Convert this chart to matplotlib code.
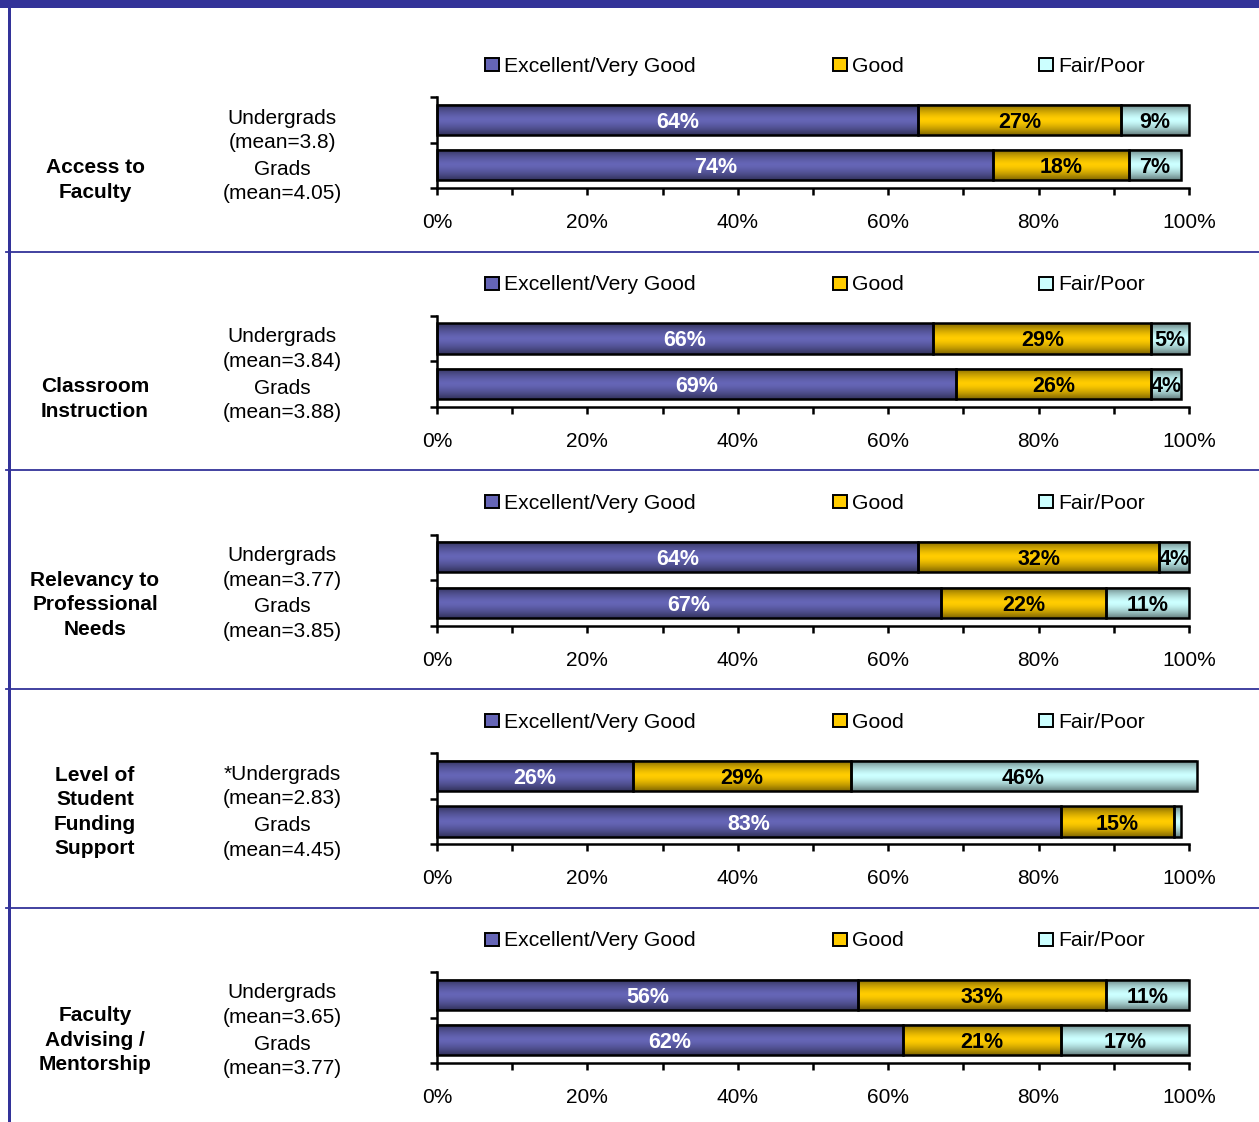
import numpy as np
import matplotlib
matplotlib.use("Agg")
import matplotlib.pyplot as plt
from matplotlib.patches import Rectangle
from matplotlib.lines import Line2D
from matplotlib.colors import LinearSegmentedColormap

plt.rcParams['font.family'] = ['Liberation Sans', 'DejaVu Sans']

# ---------------- data ----------------
topics = [["Access to", "Faculty"],
          ["Classroom", "Instruction"],
          ["Relevancy to", "Professional", "Needs"],
          ["Level of", "Student", "Funding", "Support"],
          ["Faculty", "Advising /", "Mentorship"]]
ug_names = ["Undergrads", "Undergrads", "Undergrads", "*Undergrads", "Undergrads"]
gr_names = ["Grads", "Grads", "Grads", "Grads", "Grads"]
ug_means = ["3.8", "3.84", "3.77", "2.83", "3.65"]
gr_means = ["4.05", "3.88", "3.85", "4.45", "3.77"]
categories = ["Excellent/Very Good", "Good", "Fair/Poor"]
ug_excellent = [64, 66, 64, 26, 56]
ug_good = [27, 29, 32, 29, 33]
ug_fair = [9, 5, 4, 46, 11]
gr_excellent = [74, 69, 67, 83, 62]
gr_good = [18, 26, 22, 15, 21]
gr_fair = [7, 4, 11, 1, 17]
x_ticks = [0, 20, 40, 60, 80, 100]
x_tick_labels = ["0%", "20%", "40%", "60%", "80%", "100%"]

# ---------------- style ----------------
W, H = 1259, 1122
colors = ["#6565B6", "#FFCC00", "#CCFFFF"]
label_colors = ["white", "black", "black"]
border = "#333399"

fig = plt.figure(figsize=(W / 100, H / 100), dpi=100)

def fx(px):
    return px / W

def fy(py):
    return 1 - py / H

shade = LinearSegmentedColormap.from_list("shade", [(0, 0, 0, 0), (0, 0, 0, 1)])
t = np.linspace(0, 1, 60)
grad = (0.5 * np.abs(2 * t - 1) ** 1.5).reshape(-1, 1)

panel_step = 218.75
topic_centers = [178, 397, 603, 810, 1038]
legend_marker_x = [485, 833, 1039]

for i in range(5):
    off = panel_step * i
    ax = fig.add_axes([fx(437), fy(188 + off), fx(1189) - fx(437), (188 - 97) / H])
    ax.set_xlim(0, 100)
    ax.set_ylim(-0.5, 1.5)
    series = [[ug_excellent[i], gr_excellent[i]],
              [ug_good[i], gr_good[i]],
              [ug_fair[i], gr_fair[i]]]
    ypos = [1, 0]
    left = np.zeros(2)
    for k, vals in enumerate(series):
        vals = np.array(vals, dtype=float)
        bars = ax.barh(ypos, vals, left=left, height=0.67, color=colors[k],
                       edgecolor="none", zorder=2, clip_on=False)
        for p in bars.patches:
            x0, y0, w, h = p.get_x(), p.get_y(), p.get_width(), p.get_height()
            ax.imshow(grad, extent=(x0, x0 + w, y0, y0 + h), aspect="auto",
                      cmap=shade, vmin=0, vmax=1, zorder=2.5,
                      interpolation="bilinear", clip_on=False)
        ax.barh(ypos, vals, left=left, height=0.67, fill=False,
                edgecolor="black", linewidth=1.8, zorder=3, clip_on=False)
        for y, v, l in zip(ypos, vals, left):
            if v > 1:
                ax.text(l + v / 2, y, f"{int(v)}%", ha="center", va="center_baseline",
                        fontsize=15.5, fontweight="bold", color=label_colors[k],
                        zorder=4)
        left = left + vals
    ax.set_xlim(0, 100)
    ax.set_ylim(-0.5, 1.5)
    ax.set_xticks(x_ticks)
    ax.set_xticklabels(x_tick_labels, fontsize=15)
    ax.set_xticks(np.arange(10, 100, 20), minor=True)
    ax.set_yticks([-0.5, 0.5, 1.5])
    ax.set_yticklabels([])
    ax.tick_params(axis="x", which="both", direction="out", length=5, width=1.8, pad=13)
    ax.tick_params(axis="y", direction="out", length=5, width=1.8)
    for s in ["top", "right"]:
        ax.spines[s].set_visible(False)
    for s in ["left", "bottom"]:
        ax.spines[s].set_linewidth(1.8)

    # legend
    for k, name in enumerate(categories):
        mx = legend_marker_x[k]
        fig.patches.append(Rectangle((fx(mx), fy(71 + off)), 14 / W, 13 / H,
                                     transform=fig.transFigure, facecolor=colors[k],
                                     edgecolor="black", linewidth=1.4))
        fig.text(fx(mx + 19), fy(71.5 + off), name, ha="left", va="baseline",
                 fontsize=15.2)

    # group labels
    mean_lines = [ug_names[i], f"(mean={ug_means[i]})", gr_names[i], f"(mean={gr_means[i]})"]
    for j, (txt, yy) in enumerate(zip(mean_lines, [116, 140.5, 167.5, 192])):
        fig.text(fx(282), fy(yy + 7.5 + off), txt, ha="center", va="baseline", fontsize=15)

    # topic
    lines = topics[i]
    n = len(lines)
    for j, txt in enumerate(lines):
        yy = topic_centers[i] + (j - (n - 1) / 2) * 24.5
        fig.text(fx(95), fy(yy + 7.5), txt, ha="center", va="baseline",
                 fontsize=15, fontweight="bold")

# frame decorations
fig.patches.append(Rectangle((0, fy(8)), 1, 8 / H, transform=fig.transFigure,
                             facecolor=border, edgecolor="none"))
fig.patches.append(Rectangle((fx(7.5), 0), 3 / W, 1, transform=fig.transFigure,
                             facecolor=border, edgecolor="none"))
for yy in [252, 470, 689, 908]:
    fig.lines.append(Line2D([fx(6), 1], [fy(yy), fy(yy)], transform=fig.transFigure,
                            color=border, linewidth=1.3))

fig.savefig("out.png", dpi=100)
